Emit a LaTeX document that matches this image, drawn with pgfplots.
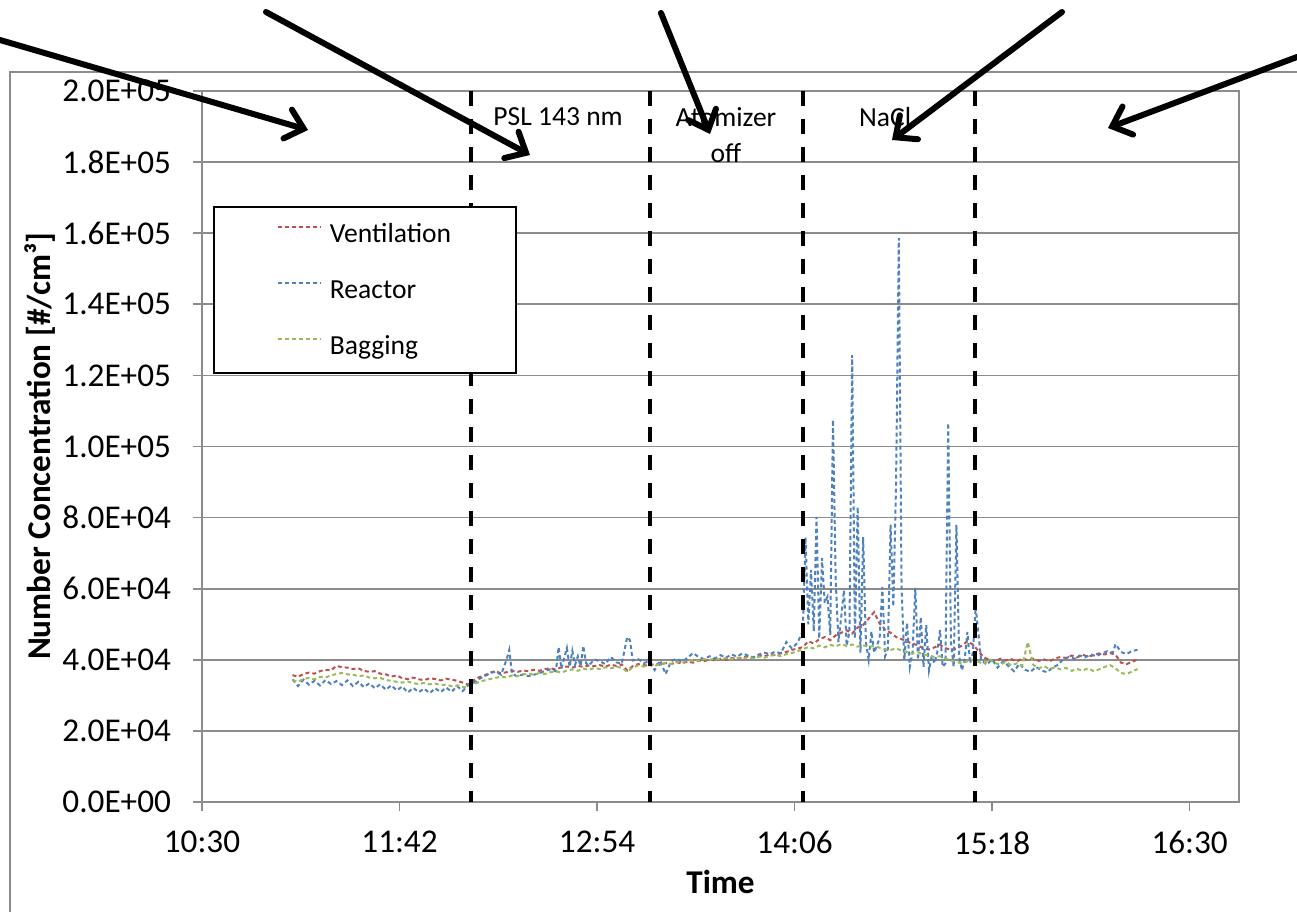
\documentclass[border=0pt]{standalone}
\usepackage{pgfplots}
\pgfplotsset{compat=1.18}
\usepackage{pgfplotstable}
\usepackage{fontspec}
\setmainfont{Carlito}
\usetikzlibrary{arrows.meta}
\definecolor{ventc}{HTML}{C0504D}
\definecolor{reacc}{HTML}{4F81BD}
\definecolor{bagc}{HTML}{9BBB59}
\definecolor{gridc}{HTML}{8C8C8C}

% x = minutes after 10:30, y = thousands per cm^3
\pgfplotstableread{
t v
33 35.7
35 35.2
37 36.0
39 36.4
41 36.1
43 36.8
45 37.2
47 37.0
49 38.3
51 37.9
53 37.8
55 37.4
57 37.6
59 36.9
61 36.6
63 36.8
65 36.1
67 35.9
69 35.3
71 35.6
73 34.8
75 34.6
77 35.0
79 34.5
81 34.3
83 34.8
85 34.6
87 34.2
89 34.7
91 34.4
93 34.1
95 33.6
97 33.0
99 34.2
101 35.1
103 35.6
105 36.4
107 36.8
109 36.2
111 36.5
113 36.9
115 36.6
117 37.0
119 36.8
121 37.2
123 36.9
125 37.4
127 37.6
129 37.3
131 37.9
133 38.1
135 37.8
137 38.3
139 38.0
141 38.4
143 38.2
145 38.5
147 38.1
149 38.6
151 38.3
153 38.7
155 37.0
157 38.2
159 38.8
161 38.5
163 38.3
165 38.9
167 38.6
169 39.1
171 38.8
173 39.3
175 39.0
177 39.5
179 39.2
181 39.8
183 39.6
185 40.1
187 39.8
189 40.3
191 40.0
193 40.5
195 40.2
197 40.7
199 40.9
201 40.6
203 41.2
205 41.0
207 41.5
209 41.3
211 41.9
213 42.2
215 42.8
217 43.1
219 43.6
221 45.2
223 44.6
225 45.8
227 46.4
229 45.5
231 46.9
233 47.6
235 48.3
237 47.4
239 49.1
241 49.8
243 51.6
245 53.4
247 50.2
249 48.5
251 47.6
253 46.4
255 45.8
257 45.1
259 44.6
261 44.0
263 43.2
265 42.9
267 43.5
269 44.2
271 43.3
273 42.8
275 43.1
277 44.0
279 45.2
281 44.3
283 42.5
285 40.6
287 40.1
289 39.6
291 40.3
293 39.8
295 40.2
297 39.5
299 40.4
301 39.9
303 40.3
305 39.7
307 40.1
309 39.6
311 40.4
313 40.8
315 40.5
317 41.2
319 40.7
321 41.4
323 40.9
325 41.3
327 41.8
329 41.5
331 41.9
333 41.4
335 39.2
337 38.8
339 39.4
341 40.1
}\ventdata

\pgfplotstableread{
t v
33 34.5
35 32.6
37 34.4
39 33.0
41 34.1
43 32.8
45 34.3
47 33.2
49 34.0
51 32.9
53 34.2
55 32.6
57 33.8
59 32.3
61 33.4
63 32.0
65 33.1
67 31.6
69 32.8
71 31.4
73 32.5
75 30.8
77 32.1
79 30.9
81 31.9
83 30.6
85 32.0
87 30.9
89 32.2
91 31.0
93 32.6
95 31.2
97 32.8
99 33.5
101 34.6
103 35.4
105 36.2
107 36.7
109 35.8
111 40.0
112 42.8
113 36.1
115 35.3
117 35.9
119 35.4
121 35.8
123 36.2
125 36.9
127 37.3
129 36.8
130 43.6
131 37.5
133 43.3
134 38.0
135 42.5
136 38.6
137 41.0
138 38.2
139 43.9
140 39.0
141 38.4
143 40.1
145 39.6
147 38.8
149 40.8
151 39.3
153 38.9
155 46.4
156 45.5
157 39.8
159 40.2
161 39.1
163 39.5
165 37.1
167 39.8
169 36.0
171 39.6
173 40.3
175 39.4
177 40.6
179 41.9
181 40.8
183 40.2
185 41.0
187 40.4
189 41.3
191 40.6
193 41.5
195 40.9
197 41.8
199 41.2
201 40.7
203 41.5
205 42.0
207 41.6
209 42.3
211 41.8
213 45.0
215 43.2
217 44.7
219 48.0
220 74.5
221 50.0
222 65.3
223 48.0
224 80.2
225 46.0
226 68.6
227 56.0
228 57.7
229 47.0
230 107.5
231 62.4
232 45.0
233 52.0
234 59.6
235 44.0
236 48.0
237 125.7
238 46.0
239 83.0
240 42.0
241 74.5
242 45.0
243 40.0
244 48.0
245 42.0
246 44.0
247 46.0
248 60.5
249 41.0
250 43.0
251 78.0
252 55.0
253 89.7
254 158.6
255 60.0
256 40.0
257 50.4
258 38.0
259 42.0
260 60.2
261 40.0
262 52.0
263 38.0
264 49.8
265 37.0
266 41.0
267 39.0
268 42.0
269 48.4
270 38.0
271 39.0
272 106.6
273 45.0
274 38.0
275 78.0
276 41.0
277 37.0
278 40.0
279 47.8
280 39.0
281 42.0
282 54.9
283 47.5
284 40.0
286 38.6
288 40.1
290 37.8
292 39.6
294 38.2
296 36.8
298 38.9
300 37.2
302 36.6
304 38.0
306 37.0
308 36.5
310 37.8
312 38.6
314 40.2
316 40.8
318 40.3
320 41.2
322 40.7
324 41.5
326 41.0
328 41.8
330 42.4
332 42.0
333 44.4
335 42.2
337 41.6
339 42.5
341 42.8
}\reacdata

\pgfplotstableread{
t v
33 34.3
35 33.8
37 34.6
39 34.9
41 34.5
43 35.2
45 35.0
47 35.6
49 36.0
51 36.3
53 35.9
55 35.8
57 35.4
59 35.6
61 35.0
63 34.8
65 34.9
67 34.3
69 34.1
71 33.8
73 33.6
75 33.9
77 33.4
79 33.2
81 33.5
83 33.1
85 33.3
87 32.9
89 33.0
91 32.6
93 32.8
95 32.4
97 32.2
99 33.1
101 33.8
103 34.2
105 34.6
107 34.9
109 35.3
111 35.0
113 35.6
115 35.4
117 35.9
119 36.1
121 35.8
123 36.3
125 36.0
127 36.5
129 36.8
131 36.4
133 37.0
135 37.3
137 36.9
139 37.5
141 37.2
143 37.7
145 37.4
147 37.9
149 37.6
151 38.0
153 37.8
155 36.6
157 37.9
159 38.4
161 38.1
163 38.5
165 38.3
167 38.8
169 39.1
171 38.8
173 39.4
175 39.2
177 39.7
179 40.0
181 39.7
183 40.2
185 39.9
187 40.4
189 40.1
191 40.5
193 40.2
195 40.6
197 40.3
199 40.7
201 40.4
203 40.9
205 40.6
207 41.1
209 41.4
211 41.0
213 41.6
215 41.9
217 42.4
219 43.0
221 43.6
223 43.2
225 44.0
227 43.5
229 44.2
231 43.8
233 44.4
235 43.9
237 44.3
239 43.7
241 44.1
243 43.6
245 43.9
247 43.4
249 43.0
251 42.8
253 43.2
255 42.6
257 42.2
259 41.8
261 42.1
263 41.5
265 41.2
267 40.8
269 41.0
271 40.4
273 39.8
275 39.4
277 39.0
279 39.6
281 40.0
283 39.4
285 38.9
287 40.2
289 39.1
291 38.6
293 39.5
295 38.4
297 39.0
299 38.3
301 45.0
303 38.6
305 37.6
307 38.2
309 37.4
311 37.9
313 37.3
315 37.7
317 36.9
319 37.4
321 37.0
323 37.6
325 36.8
327 37.3
329 38.0
331 38.5
333 37.6
335 36.3
337 36.0
339 36.7
341 37.4
}\bagdata

\begin{document}
\begin{tikzpicture}
\path[use as bounding box] (0bp,0bp) rectangle (389.1bp,273.6bp);
\draw[gridc, line width=0.5bp] (3bp,0bp) -- (3bp,252bp) -- (389.1bp,252bp);
\begin{axis}[
  at={(60.6bp,33bp)}, anchor=south west,
  scale only axis, width=311.1bp, height=213.3bp,
  xmin=0, xmax=378, ymin=0, ymax=200,
  axis line style={draw=gridc, line width=0.5bp},
  xtick={0,72,144,216,288,360},
  xticklabels={10:30,11:42,12:54,14:06,15:18,16:30},
  ytick={0,20,40,60,80,100,120,140,160,180,200},
  yticklabels={0.0E+00,2.0E+04,4.0E+04,6.0E+04,8.0E+04,1.0E+05,1.2E+05,1.4E+05,1.6E+05,1.8E+05,2.0E+05},
  ymajorgrids, grid style={draw=gridc, line width=0.5bp},
  tick align=outside, major tick length=2.8bp,
  tick style={draw=gridc, line width=0.5bp},
  xtick pos=bottom, ytick pos=left,
  tick label style={font=\fontsize{10}{12}\selectfont},
  yticklabel style={xshift=-3bp},
  xticklabel style={yshift=-2.5bp},
  xlabel={Time}, ylabel={Number Concentration [\#/cm³]},
  label style={font=\fontsize{10}{12}\selectfont\bfseries},
  xlabel style={at={(axis description cs:0.5,0)}, anchor=center, yshift=-24bp},
  ylabel style={at={([xshift=-48.6bp]axis description cs:0,0.5)}, anchor=center},
  legend style={draw=none, fill=none, inner sep=0pt, row sep=9bp, column sep=2.4bp,
    font=\fontsize{8.3}{10}\selectfont, cells={anchor=west},
    nodes={text height=6bp, text depth=1.8bp, inner sep=0pt},
    at={(rel axis cs:0.0723,0.8158)}, anchor=north west},
  legend image code/.code={\draw[#1, line width=0.4bp] (0bp,2.6bp) -- (12.9bp,2.6bp);},
  legend cell align=left,
]
\addplot[ventc, line width=0.6bp, dash pattern=on 1.2bp off 0.9bp] table[x=t,y=v] {\ventdata};
\addlegendentry{Ventilation}
\addplot[reacc, line width=0.6bp, dash pattern=on 1.2bp off 0.9bp] table[x=t,y=v] {\reacdata};
\addlegendentry{Reactor}
\addplot[bagc, line width=0.6bp, dash pattern=on 1.2bp off 0.9bp] table[x=t,y=v] {\bagdata};
\addlegendentry{Bagging}
\draw[black, line width=1.25bp, dash pattern=on 4.5bp off 3.9bp] (axis cs:98,200) -- (axis cs:98,0);
\draw[black, line width=1.25bp, dash pattern=on 4.5bp off 3.9bp] (axis cs:163.3,200) -- (axis cs:163.3,0);
\draw[black, line width=1.25bp, dash pattern=on 4.5bp off 3.9bp] (axis cs:219.1,200) -- (axis cs:219.1,0);
\draw[black, line width=1.25bp, dash pattern=on 4.5bp off 3.9bp] (axis cs:281.8,200) -- (axis cs:281.8,0);
\draw[black, fill=white, line width=0.5bp] (rel axis cs:0.01157,0.8368) rectangle (rel axis cs:0.3028,0.6034);
\node[font=\fontsize{8.3}{10}\selectfont] at (axis cs:129.8,192.7) {PSL 143 nm};
\node[font=\fontsize{8.3}{10}\selectfont] at (axis cs:191,192.7) {Atomizer};
\node[font=\fontsize{8.3}{10}\selectfont] at (axis cs:191,182.6) {off};
\node[font=\fontsize{8.3}{10}\selectfont] at (axis cs:249,192.7) {NaCl};
\end{axis}
\begin{scope}[line width=1.8bp, line cap=round, -{Straight Barb[length=5bp,width=9bp,line cap=round]}]
\draw (0bp,261.6bp) -- (92.4bp,234.6bp);
\draw (79.8bp,270bp) -- (159bp,227.1bp);
\draw (198.3bp,269.7bp) -- (213bp,233.4bp);
\draw (318.6bp,270bp) -- (267.6bp,231.6bp);
\draw (389.1bp,256.5bp) -- (332.4bp,235.2bp);
\end{scope}
\end{tikzpicture}
\end{document}
